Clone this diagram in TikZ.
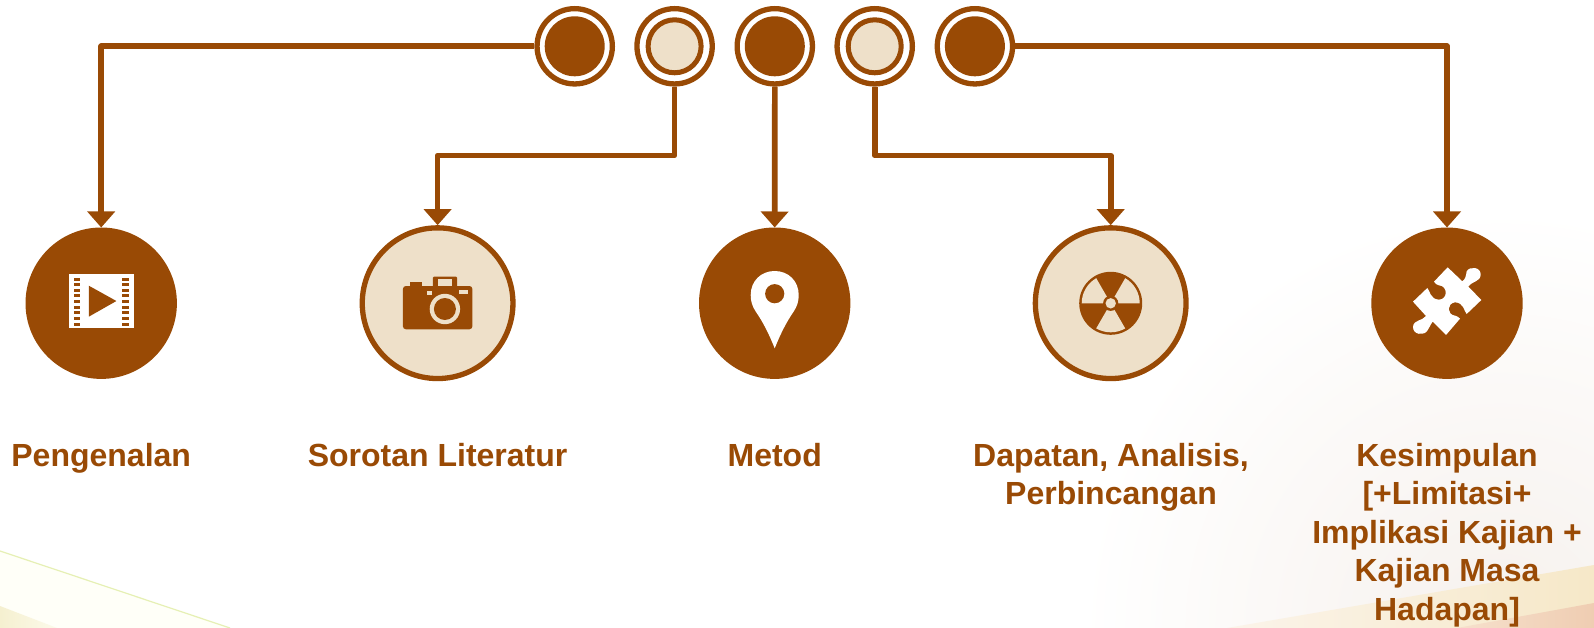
\documentclass[tikz,border=0pt]{standalone}
\usepackage{fontspec}
\setmainfont{Liberation Sans}
\usetikzlibrary{arrows.meta}
\definecolor{brn}{HTML}{994A05}
\definecolor{crm}{HTML}{EEE0C9}
\definecolor{paleA}{HTML}{FFFFF8}
\definecolor{lineG}{HTML}{E6F0B4}
\definecolor{wedgeA}{HTML}{F5F0D0}
\definecolor{wedgeB}{HTML}{FCFAEA}
\definecolor{greyB}{HTML}{F6F1ED}
\definecolor{bandA}{HTML}{FBF4EA}
\definecolor{bandB}{HTML}{F6E8C8}
\definecolor{peachA}{HTML}{F6E0CC}
\definecolor{peachB}{HTML}{EFCDB2}
\tikzset{
  bigfill/.style={circle,fill=brn,minimum size=151.4pt,inner sep=0pt,outer sep=0pt},
  bigring/.style={circle,draw=brn,line width=5.3pt,fill=crm,minimum size=150.7pt,inner sep=0pt,outer sep=2.65pt},
  dotring/.style={circle,draw=brn,line width=5.3pt,fill=white,minimum size=75.3pt,inner sep=0pt,outer sep=2.65pt},
  dotfill/.style={circle,fill=brn,minimum size=60pt,inner sep=0pt},
  dotcrm/.style={circle,draw=brn,line width=5pt,fill=crm,minimum size=53pt,inner sep=0pt},
  conn/.style={draw=brn,line width=5.6pt,line join=round},
  arr/.style={conn,-{Triangle[length=16pt,width=27pt,fill=brn]}},
  lab/.style={text=brn,font=\fontsize{32}{38.5}\selectfont\bfseries,align=center,anchor=base},
}
\begin{document}
\begin{tikzpicture}[x=1pt,y=-1pt]
\useasboundingbox (0,0) rectangle (1594,628);
% background
\fill[white] (0,0) rectangle (1594,628);
\begin{scope}
\clip (0,0) rectangle (1594,628);
\shade[inner color=greyB,outer color=white] (1500,628) circle (420);
\fill[paleA] (0,551) -- (230,628) -- (0,628) -- cycle;
\draw[lineG,line width=1.2pt] (0,551) -- (230,628);
\shade[left color=wedgeA,right color=wedgeB] (0,606) -- (57,628) -- (0,628) -- cycle;
\shade[left color=bandA,right color=bandB] (1227,628) -- (1594,565) -- (1594,628) -- cycle;
\shade[left color=peachA,right color=peachB] (1457,628) -- (1594,603) -- (1594,628) -- cycle;
\end{scope}
% top circles
\node[dotring] (d1) at (574.7,46.3) {};
\node[dotring] (d2) at (674.6,46.3) {};
\node[dotring] (d3) at (774.8,46.3) {};
\node[dotring] (d4) at (874.7,46.3) {};
\node[dotring] (d5) at (974.9,46.3) {};
\node[dotfill] (i1) at (d1) {};
\node[dotcrm] (i2) at (d2) {};
\node[dotfill] (i3) at (d3) {};
\node[dotcrm] (i4) at (d4) {};
\node[dotfill] (i5) at (d5) {};
% big circles
\node[bigfill] (b1) at (101.2,303.2) {};
\node[bigring] (b2) at (437.6,303.2) {};
\node[bigfill] (b3) at (774.7,303.2) {};
\node[bigring] (b4) at (1110.7,303.2) {};
\node[bigfill] (b5) at (1447,303.2) {};
% connectors
\coordinate (e2) at (0,155.5);
\draw[arr] (d1.west) -| (b1.north);
\draw[arr] (d2.south) -- (d2.south |- e2) -- (b2.north |- e2) -- (b2.north);
\draw[arr] (d3.south) -- (b3.north);
\draw[arr] (d4.south) -- (d4.south |- e2) -- (b4.north |- e2) -- (b4.north);
\draw[arr] (d5.east) -| (b5.north);
% film icon
\fill[white] (69,274) rectangle (133.6,328);
\foreach \k in {0,...,8}{
  \fill[brn] (74,{277.5+\k*5.65}) rectangle (80,{280.5+\k*5.65});
  \fill[brn] (122.4,{277.5+\k*5.65}) rectangle (129,{280.5+\k*5.65});
}
\fill[brn] (88.8,285.7) -- (116.4,301) -- (88.8,316.7) -- cycle;
% camera icon
\fill[brn,rounded corners=3pt] (402.9,286) rectangle (472.4,329.3);
\fill[brn,rounded corners=1pt] (432.9,276.7) rectangle (457,288);
\fill[brn] (409.8,282) rectangle (422,288);
\fill[crm] (438,279.3) rectangle (451.8,286);
\fill[crm] (427,290.7) rectangle (431.8,294.7);
\fill[crm] (459.4,290) rectangle (468.3,294.3);
\fill[crm] (444.9,309) circle (15.2);
\fill[brn] (444.9,309) circle (11);
% pin icon
\fill[white] (774.7,348.3) .. controls (769,334) and (763,322) .. (756,312)
  .. controls (752,306) and (750.7,301) .. (750.7,295)
  .. controls (750.7,281) and (761,271) .. (774.7,271)
  .. controls (788.4,271) and (798.7,281) .. (798.7,295)
  .. controls (798.7,301) and (797.4,306) .. (793.4,312)
  .. controls (786.4,322) and (780.4,334) .. (774.7,348.3) -- cycle;
\fill[brn] (774.7,293.7) circle (9.6);
% radiation icon
\fill[brn] (1110.7,303.3) circle (31.5);
\begin{scope}[shift={(1110.7,303.3)}]
\fill[crm] (0,0) -- (-120:29) arc[start angle=-120,end angle=-180,radius=29] -- cycle;
\fill[crm] (0,0) -- (0:29) arc[start angle=0,end angle=-60,radius=29] -- cycle;
\fill[crm] (0,0) -- (-240:29) arc[start angle=-240,end angle=-300,radius=29] -- cycle;
\end{scope}
\fill[brn] (1110.7,303.3) circle (7.6);
\fill[crm] (1110.7,303.3) circle (5.2);
% puzzle icon
\begin{scope}[shift={(1340,210)},x=.3333pt,y=-.3333pt]
\fill[white] (323,172) -- (367,214)
  .. controls (376,208) and (378,198) .. (380,184)
  .. controls (388,168) and (424,170) .. (422,195)
  .. controls (420,216) and (398,212) .. (385,230)
  -- (424,270) -- (380,312)
  .. controls (372,304) and (372,278) .. (345,277)
  .. controls (320,280) and (320,314) .. (345,317)
  .. controls (350,318) and (356,321) .. (360,326)
  -- (318,375) -- (278,335)
  .. controls (270,345) and (268,355) .. (262,362)
  .. controls (252,378) and (218,375) .. (219,350)
  .. controls (222,328) and (246,334) .. (258,318)
  -- (219,275) -- (262,234)
  .. controls (270,242) and (270,268) .. (297,269)
  .. controls (324,268) and (324,228) .. (297,226)
  .. controls (290,226) and (286,220) .. (282,215)
  -- cycle;
\end{scope}
% labels
\node[lab] (t1) at (101.2,466) {Pengenalan};
\node[lab] (t2) at (437.6,466) {Sorotan Literatur};
\node[lab] (t3) at (774.7,466) {Metod};
\node[lab] (t4) at (1111,504.5) {Dapatan, Analisis,\\Perbincangan};
\node[lab] (t5) at (1447,620) {Kesimpulan\\{}[+Limitasi+\\Implikasi Kajian +\\Kajian Masa\\Hadapan]};
\end{tikzpicture}
\end{document}
